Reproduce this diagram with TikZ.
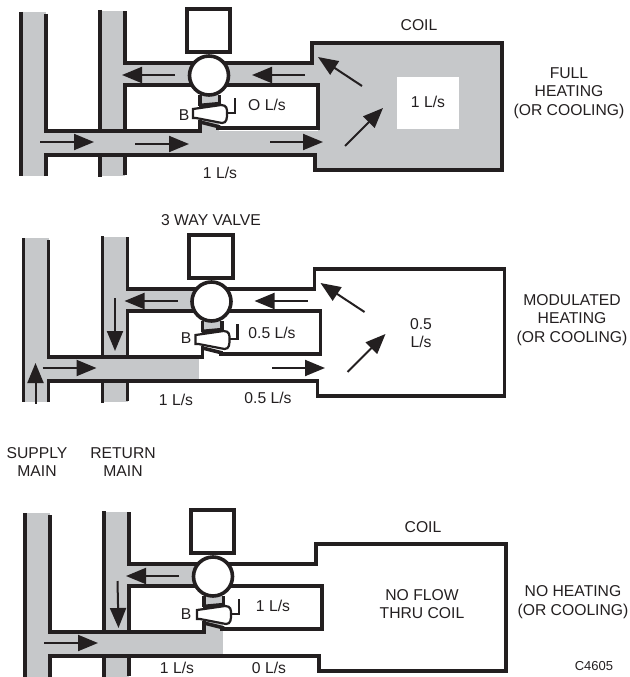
\documentclass[tikz,border=0pt]{standalone}
\usepackage{fontspec}
\setmainfont{Liberation Sans}
\usetikzlibrary{arrows.meta}
\definecolor{pipegrey}{HTML}{C6C8CA}
\definecolor{inkblack}{HTML}{231F20}

\tikzset{
    wall/.style={line width=3.6pt, inkblack, miter limit=10},
    flow/.style={line width=2pt, inkblack, -{Triangle[length=20pt,width=16pt]}},
    label/.style={inner sep=0pt, align=center, text=inkblack, font=\fontsize{15.7}{18.5}\selectfont},
    grey/.style={fill=pipegrey, draw=none}
}

% walls, valve and actuator of one panel
\newcommand{\pipework}{
    \draw[wall] (21,12) -- (21,176);
    \draw[wall] (46,14) -- (46,131) -- (200,131) -- (200,120);
    \draw[wall] (46,176) -- (46,155) -- (315,155) -- (315,170) -- (502,170) -- (502,43) -- (312,43) -- (312,63) -- (125,63) -- (125,11);
    \draw[wall] (100,10) -- (100,129);
    \draw[wall] (100,155) -- (100,177);
    \draw[wall] (125,155) -- (125,175);
    \draw[wall] (125,130) -- (125,85) -- (318,85) -- (318,128) -- (218,128) -- (218,125);
    \draw[wall] (200,95) -- (200,106);
    \draw[wall] (219.5,95) -- (219.5,106);
    \draw[wall] (199,105.5) -- (221,103.5);
    \draw[wall] (200,122) -- (220,127);
    \draw[line width=2.2pt, inkblack] (227,113) -- (235,113) -- (235,98);
    \draw[line width=2.2pt, inkblack, fill=white] (193,109) -- (221,105) .. controls (227,105) and (227,109) .. (227,113) .. controls (227,118) and (227,123) .. (222,123) -- (196,118) -- (193,118) -- cycle;
    \node[circle, draw=inkblack, fill=white, line width=3.6pt, minimum size=39pt, inner sep=0pt] (valve) at (209,75.5) {};
    \node[rectangle, draw=inkblack, fill=white, line width=3.6pt, minimum width=43.5pt, minimum height=43pt, inner sep=0pt] (actuator) at (208.5,30.5) {};
}

\begin{document}
\begin{tikzpicture}[x=1pt, y=-1pt]
    \useasboundingbox (0,0) rectangle (629,677);

    % full flow
    \begin{scope}
        \fill[grey] (21,12) rectangle (46,176);
        \fill[grey] (100,11) rectangle (125,176);
        \fill[grey] (125,63) rectangle (318,85);
        \fill[grey] (46,131) rectangle (318,155);
        \fill[grey] (200,95) rectangle (219,131);
        \fill[grey] (312,43) rectangle (318,63);
        \fill[grey] (315,155) rectangle (318,170);
        \fill[grey] (318,43) rectangle (502,170);
        \fill[white] (397,77) rectangle (459,129);
        \pipework
        \draw[flow] (40,142) -- (94,142);
        \draw[flow] (135,144) -- (189,144);
        \draw[flow] (270,142) -- (323,142);
        \draw[flow] (175,75) -- (122,75);
        \draw[flow] (305,75) -- (252,75);
        \draw[flow] (362,86) -- (318,57);
        \draw[flow] (345,146) -- (383,108);
    \end{scope}
    \node[label] (coilA) at (419,25) {COIL};
    \node[label] (flowA) at (428,102) {1 L/s};
    \node[label] (stateA) at (569,93) {FULL\\HEATING\\(OR COOLING)};
    \node[label] (bypassA) at (267,105) {O L/s};
    \node[label] (portA) at (184,115) {B};
    \node[label] (totalA) at (220,173) {1 L/s};

    % modulated flow
    \begin{scope}[shift={(2.5,226)}]
        \fill[grey] (21,12) rectangle (46,176);
        \fill[grey] (100,11) rectangle (125,176);
        \fill[grey] (125,63) rectangle (190,85);
        \fill[grey] (46,131) rectangle (196.5,155);
        \fill[grey] (200,95) rectangle (219,106);
        \pipework
        \draw[flow] (40,142) -- (94,142);
        \draw[flow] (269.5,142) -- (322.5,142);
        \draw[flow] (175,75) -- (122,75);
        \draw[flow] (305,75) -- (252,75);
        \draw[flow] (362,86) -- (318,57);
        \draw[flow] (345,146) -- (383,108);
        \draw[flow] (112.5,72) -- (112.5,125);
        \draw[flow] (33,178) -- (33,137);
    \end{scope}
    \node[label] (valveB) at (211,220) {3 WAY VALVE};
    \node[label] (flowB) at (421,333) {0.5\\L/s};
    \node[label] (stateB) at (572,320) {MODULATED\\HEATING\\(OR COOLING)};
    \node[label] (bypassB) at (272,333) {0.5 L/s};
    \node[label] (portB) at (186,338) {B};
    \node[label] (totalB) at (176,400) {1 L/s};
    \node[label] (coilflowB) at (268,398) {0.5 L/s};
    \node[label] (supply) at (37,462) {SUPPLY\\MAIN};
    \node[label] (return) at (123,462) {RETURN\\MAIN};

    % no coil flow
    \begin{scope}[shift={(4,501)}]
        \fill[grey] (21,12) rectangle (46,176);
        \fill[grey] (100,11) rectangle (125,176);
        \fill[grey] (125,63) rectangle (190,85);
        \fill[grey] (46,131) rectangle (219,155);
        \fill[grey] (200,95) rectangle (219,131);
        \pipework
        \draw[flow] (40,142) -- (94,142);
        \draw[flow] (175,75) -- (122,75);
        \draw[flow] (113.5,80) -- (114.5,127);
    \end{scope}
    \node[label] (coilC) at (423,527) {COIL};
    \node[label] (flowC) at (422,604) {NO FLOW\\THRU COIL};
    \node[label] (stateC) at (573,602) {NO HEATING\\(OR COOLING)};
    \node[label] (bypassC) at (273,606) {1 L/s};
    \node[label] (portC) at (186,614) {B};
    \node[label] (totalC) at (177,668) {1 L/s};
    \node[label] (coilflowC) at (269,668) {0 L/s};
    \node[label, font=\fontsize{13}{15}\selectfont] (code) at (594,666) {C4605};
\end{tikzpicture}
\end{document}
